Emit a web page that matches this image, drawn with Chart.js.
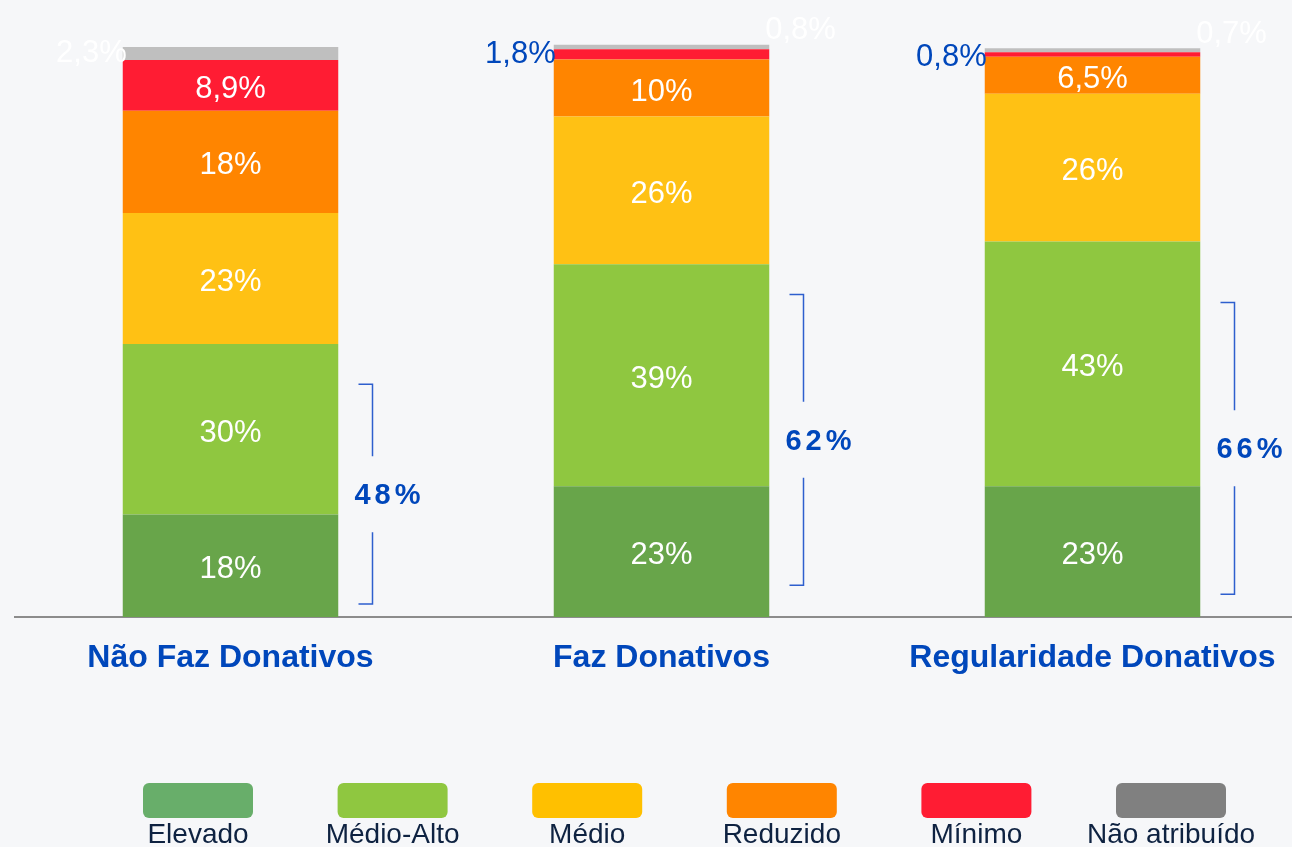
<!DOCTYPE html>
<html lang="pt">
<head>
<meta charset="utf-8">
<title>Donativos</title>
<script src="https://cdn.jsdelivr.net/npm/chart.js@4"></script>
<style>
  html, body { margin: 0; padding: 0; background: #f6f7f9; overflow: hidden; }
  #wrap { position: relative; width: 1310px; height: 847px; }
</style>
</head>
<body>
<div id="wrap"><canvas id="chart"></canvas></div>
<script>
const categories = ['Não Faz Donativos', 'Faz Donativos', 'Regularidade Donativos'];
const seriesNames = ['Elevado', 'Médio-Alto', 'Médio', 'Reduzido', 'Mínimo', 'Não atribuído'];

const elevado = [18, 23, 23];
const medioAlto = [30, 39, 43];
const medio = [23, 26, 26];
const reduzido = [18, 10, 6.5];
const minimo = [8.9, 1.8, 0.8];
const naoAtribuido = [2.3, 0.8, 0.7];

// Elevado + Médio-Alto totals, with the span of the bracket drawn next to each bar
const topTwoTotals = [48, 62, 66];
const bracketLow = [2.3, 5.6, 4.0];
const bracketHigh = [40.9, 56.7, 55.3];

const barColors = ['#68a54a', '#8fc740', '#ffc114', '#ff8500', '#ff1c33', '#bfbfbf'];
const legendColors = ['#68ae6a', '#8fc740', '#ffc000', '#ff8500', '#ff1c33', '#808080'];

const FONT = '"Liberation Sans", Arial, sans-serif';
const BLUE = '#0047bb';

function fmt(v) {
    return String(v).replace('.', ',') + '%';
}

const valueLabels = {
    id: 'valueLabels',
    afterDatasetsDraw(chart) {
        const ctx = chart.ctx;
        ctx.save();
        ctx.font = '31px ' + FONT;
        ctx.textBaseline = 'middle';
        chart.data.datasets.forEach((ds, i) => {
            chart.getDatasetMeta(i).data.forEach((bar, j) => {
                const text = fmt(ds.data[j]);
                const top = bar.y;
                const bottom = bar.base;
                const left = bar.x - bar.width / 2;
                const right = bar.x + bar.width / 2;
                const minimoBar = chart.getDatasetMeta(4).data[j];
                const minimoFits = minimoBar.base - minimoBar.y > 28;
                if (bottom - top > 28) {
                    ctx.fillStyle = '#ffffff';
                    ctx.textAlign = 'center';
                    ctx.fillText(text, bar.x, (top + bottom) / 2 + 4);
                } else if (i === 4) {
                    ctx.fillStyle = BLUE;
                    ctx.textAlign = 'right';
                    ctx.fillText(text, left + 2, top + 5);
                } else if (i === 5 && minimoFits) {
                    ctx.fillStyle = '#ffffff';
                    ctx.textAlign = 'right';
                    ctx.fillText(text, left + 4, top + 6);
                } else {
                    ctx.fillStyle = '#ffffff';
                    ctx.textAlign = 'left';
                    ctx.fillText(text, right - 4, top - 14);
                }
            });
        });
        ctx.restore();
    }
};

const brackets = {
    id: 'brackets',
    afterDatasetsDraw(chart) {
        const ctx = chart.ctx;
        const yScale = chart.scales.y;
        ctx.save();
        ctx.strokeStyle = '#2e5fce';
        ctx.lineWidth = 1.5;
        chart.getDatasetMeta(0).data.forEach((bar, j) => {
            const x = Math.round(bar.x + bar.width / 2 + 34) + 0.5;
            const yTop = yScale.getPixelForValue(bracketHigh[j]);
            const yBot = yScale.getPixelForValue(bracketLow[j]);
            const yMid = (yTop + yBot) / 2;
            ctx.beginPath();
            ctx.moveTo(x - 14, yTop);
            ctx.lineTo(x, yTop);
            ctx.lineTo(x, yMid - 38);
            ctx.moveTo(x, yMid + 38);
            ctx.lineTo(x, yBot);
            ctx.lineTo(x - 14, yBot);
            ctx.stroke();

            ctx.fillStyle = BLUE;
            ctx.font = 'bold 29px ' + FONT;
            ctx.letterSpacing = '4px';
            ctx.textAlign = 'center';
            ctx.textBaseline = 'middle';
            ctx.fillText(topTwoTotals[j] + '%', x + 17, yMid + 2);
        });
        ctx.restore();
    }
};

const legendRow = {
    id: 'legendRow',
    afterDraw(chart) {
        const ctx = chart.ctx;
        const first = 198, step = 194.6, boxW = 110, boxH = 35, boxTop = 783;
        ctx.save();
        seriesNames.forEach((name, i) => {
            const cx = first + i * step;
            ctx.fillStyle = legendColors[i];
            ctx.beginPath();
            ctx.roundRect(cx - boxW / 2, boxTop, boxW, boxH, 6);
            ctx.fill();
            ctx.fillStyle = '#0e2241';
            ctx.font = '28px ' + FONT;
            ctx.textAlign = 'center';
            ctx.textBaseline = 'middle';
            ctx.fillText(name, cx, boxTop + boxH + 17);
        });
        ctx.restore();
    }
};

const seriesData = [elevado, medioAlto, medio, reduzido, minimo, naoAtribuido];

new Chart(document.getElementById('chart'), {
    type: 'bar',
    data: {
        labels: categories,
        datasets: seriesNames.map((name, i) => ({
            label: name,
            data: seriesData[i],
            backgroundColor: barColors[i],
            borderWidth: 0,
            barPercentage: 0.5,
            categoryPercentage: 1.0
        }))
    },
    options: {
        responsive: true,
        maintainAspectRatio: false,
        animation: false,
        events: [],
        layout: {
            padding: { left: 15, right: 2, top: 18, bottom: 0 }
        },
        scales: {
            x: {
                stacked: true,
                grid: { display: false, drawTicks: false },
                border: { display: true, color: '#8c8c8c', width: 2 },
                ticks: {
                    color: BLUE,
                    padding: 22,
                    font: { family: FONT, size: 32, weight: 'bold' }
                },
                afterFit(scale) {
                    scale.height = 230;
                }
            },
            y: {
                stacked: true,
                display: false,
                min: 0,
                max: 105.3
            }
        },
        plugins: {
            legend: { display: false },
            tooltip: { enabled: false }
        }
    },
    plugins: [valueLabels, brackets, legendRow]
});
</script>
</body>
</html>
